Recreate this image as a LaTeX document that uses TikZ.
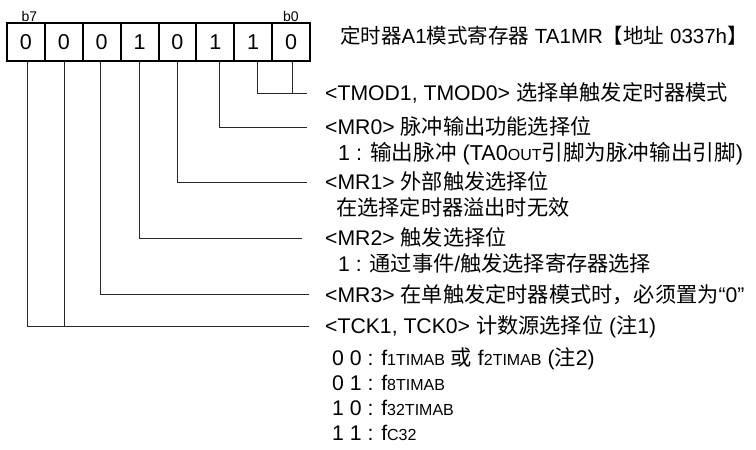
\documentclass[tikz,border=0pt]{standalone}
\usepackage{fontspec}
\setmainfont{Liberation Sans}
\newfontfamily\cjk{Noto Sans CJK SC}
\newcommand\zh[1]{{\cjk #1}}
\newcommand\sm[1]{{\fontsize{16}{18}\selectfont #1}}
\begin{document}
\begin{tikzpicture}[x=1pt,y=-1pt,
  cell/.style={draw, line width=2pt, minimum width=37.875pt, minimum height=38pt, inner sep=0pt, font=\fontsize{21.5}{24}\selectfont, text height=15.5pt, text depth=0pt},
  bitlbl/.style={anchor=base, inner sep=0pt, font=\fontsize{14}{16}\selectfont},
  txt/.style={anchor=base west, inner sep=0pt, font=\fontsize{21.2}{24}\selectfont},
  wire/.style={line width=1pt, draw=black!85}
]
\useasboundingbox (0,0) rectangle (756,450);
% register cells
\foreach \i/\v [count=\k from 0] in {7/0,6/0,5/0,4/1,3/0,2/1,1/1,0/0} {
  \node[cell] (c\i) at ({7+37.875*(\k+0.5)},42) {\v};
}
\node[bitlbl] (b7) at (29.5,21.5) {b7};
\node[bitlbl] (b0) at (291,21.5) {b0};
% title
\node[txt, font=\fontsize{20.5}{24}\selectfont] (title) at (340,43) {\zh{定时器}A1\zh{模式寄存器} TA1MR\zh{【地址} 0337h\zh{】}};
% end coordinates of connectors
\coordinate (e1) at (307,93);
\coordinate (e2) at (307,127);
\coordinate (e3) at (307,182);
\coordinate (e4) at (302,238);
\coordinate (e5) at (309,294);
\coordinate (e7) at (309,326);
% connectors
\draw[wire] ([xshift=4pt]c1.south) |- (e1);
\draw[wire] ([xshift=1pt]c0.south) -- ([xshift=1pt]c0.south |- e1);
\draw[wire] ([xshift=4pt]c2.south) |- (e2);
\draw[wire] (c3.south) |- (e3);
\draw[wire] (c4.south) |- (e4);
\draw[wire] ([xshift=-1pt]c5.south) |- (e5);
\draw[wire] ([xshift=2pt]c7.south) |- (e7);
\draw[wire] ([xshift=1pt]c6.south) -- ([xshift=1pt]c6.south |- e7);
% texts
\node[txt] (t1) at (325,100.5) {<TMOD1, TMOD0> \zh{选择单触发定时器模式}};
\node[txt] (t2) at (325,134.5) {<MR0> \zh{脉冲输出功能选择位}};
\node[txt, font=\fontsize{21.6}{24}\selectfont] (t2a) at (338,160.5) {1 : \zh{输出脉冲} (TA0\sm{OUT}\zh{引脚为脉冲输出引脚})};
\node[txt] (t3) at (325,189.5) {<MR1> \zh{外部触发选择位}};
\node[txt] (t3a) at (336,215.5) {\zh{在选择定时器溢出时无效}};
\node[txt] (t4) at (325,245.5) {<MR2> \zh{触发选择位}};
\node[txt] (t4a) at (338,271.5) {1 : \zh{通过事件}/\zh{触发选择寄存器选择}};
\node[txt] (t5) at (325,302) {<MR3> \zh{在单触发定时器模式时，必须置为}“0”};
\node[txt] (t6) at (325,333.5) {<TCK1, TCK0> \zh{计数源选择位} (\zh{注}1)};
\node[txt] (t6a) at (332,365.5) {0 0 : f\sm{1TIMAB} \zh{或} f\sm{2TIMAB} (\zh{注}2)};
\node[txt] (t6b) at (332,390.5) {0 1 : f\sm{8TIMAB}};
\node[txt] (t6c) at (332,415.5) {1 0 : f\sm{32TIMAB}};
\node[txt] (t6d) at (332,440.5) {1 1 : f\sm{C32}};
\end{tikzpicture}
\end{document}
